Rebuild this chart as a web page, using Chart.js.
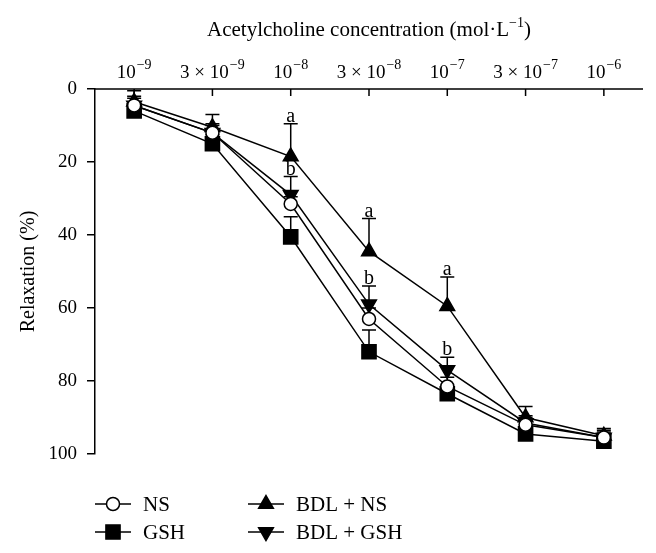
<!DOCTYPE html>
<html lang="en">
<head>
  <meta charset="UTF-8" />
  <title>Relaxation vs acetylcholine concentration</title>
  <script src="https://cdn.jsdelivr.net/npm/chart.js"></script>
  <style>
    html, body { margin: 0; padding: 0; background: #fff; }
    #wrap { width: 656px; height: 553px; }
  </style>
</head>
<body>
  <div id="wrap"><canvas id="chart"></canvas></div>

  <script>
    // categories (acetylcholine concentration, mol/L)
    const categories = ['1e-9', '3e-9', '1e-8', '3e-8', '1e-7', '3e-7', '1e-6'];
    const tickBase = ['10', '3 × 10', '10', '3 × 10', '10', '3 × 10', '10'];
    const tickExp = ['−9', '−9', '−8', '−8', '−7', '−7', '−6'];

    // relaxation (%) and error (upward)
    const nsValues = [4.5, 12, 31.5, 63, 81.5, 92, 95.5];
    const nsErr = [2, 2, 2, 3, 2.5, 2, 1.5];
    const gshValues = [6, 15, 40.5, 72, 83.5, 94.5, 96.5];
    const gshErr = [2, 2.5, 5.5, 6, 2, 2, 2];
    const bdlNsValues = [3.5, 10.5, 18.5, 44.5, 59.5, 90, 95];
    const bdlNsErr = [3, 3.5, 9, 9, 8, 3, 2];
    const bdlGshValues = [4.5, 12, 29, 59, 77, 91.5, 95.5];
    const bdlGshErr = [2.5, 2.5, 5, 5, 3.5, 2, 2];

    // significance letters
    const bdlNsMarks = [null, null, 'a', 'a', 'a', null, null];
    const bdlGshMarks = [null, null, 'b', 'b', 'b', null, null];

    const FONT = '"Liberation Serif", "Times New Roman", serif';

    function drawMarker(ctx, style, x, y, r, rot, filled) {
      ctx.save();
      ctx.beginPath();
      if (style === 'circle') {
        ctx.arc(x, y, r, 0, Math.PI * 2);
      } else if (style === 'rect') {
        const s = r * Math.SQRT1_2;
        ctx.rect(x - s, y - s, 2 * s, 2 * s);
      } else {
        let a = rot * Math.PI / 180;
        ctx.moveTo(x + Math.sin(a) * r, y - Math.cos(a) * r);
        a += Math.PI * 2 / 3;
        ctx.lineTo(x + Math.sin(a) * r, y - Math.cos(a) * r);
        a += Math.PI * 2 / 3;
        ctx.lineTo(x + Math.sin(a) * r, y - Math.cos(a) * r);
        ctx.closePath();
      }
      ctx.fillStyle = filled ? '#000' : '#fff';
      ctx.fill();
      ctx.lineWidth = 1.5;
      ctx.strokeStyle = '#000';
      ctx.stroke();
      ctx.restore();
    }

    // error bars, letters, top axis and legend
    const extras = {
      id: 'extras',
      beforeDatasetsDraw(chart) {
        const ctx = chart.ctx;
        const x = chart.scales.x, y = chart.scales.y;
        ctx.save();
        ctx.strokeStyle = '#000';
        ctx.lineWidth = 1.5;
        chart.data.datasets.forEach(ds => {
          ds.data.forEach((v, i) => {
            const px = x.getPixelForValue(i);
            const py = y.getPixelForValue(v);
            const pe = y.getPixelForValue(v - ds.errors[i]);
            ctx.beginPath();
            ctx.moveTo(px, py);
            ctx.lineTo(px, pe);
            ctx.moveTo(px - 7, pe);
            ctx.lineTo(px + 7, pe);
            ctx.stroke();
            if (ds.marks && ds.marks[i]) {
              ctx.fillStyle = '#000';
              ctx.font = '20px ' + FONT;
              ctx.textAlign = 'center';
              ctx.textBaseline = 'alphabetic';
              ctx.fillText(ds.marks[i], px, pe - 2);
            }
          });
        });
        ctx.restore();
      },
      afterDraw(chart) {
        const ctx = chart.ctx;
        const area = chart.chartArea;
        const x = chart.scales.x;
        ctx.save();
        // top axis
        ctx.strokeStyle = '#000';
        ctx.lineWidth = 1.5;
        ctx.beginPath();
        ctx.moveTo(area.left, area.top);
        ctx.lineTo(area.right, area.top);
        categories.forEach((c, i) => {
          const px = x.getPixelForValue(i);
          ctx.moveTo(px, area.top);
          ctx.lineTo(px, area.top + 7);
        });
        ctx.stroke();

        ctx.fillStyle = '#000';
        ctx.textBaseline = 'alphabetic';
        ctx.textAlign = 'left';
        categories.forEach((c, i) => {
          const px = x.getPixelForValue(i);
          ctx.font = '19px ' + FONT;
          const wb = ctx.measureText(tickBase[i]).width;
          ctx.font = '14px ' + FONT;
          const we = ctx.measureText(tickExp[i]).width;
          const x0 = px - (wb + we + 1) / 2;
          ctx.font = '19px ' + FONT;
          ctx.fillText(tickBase[i], x0, 78);
          ctx.font = '14px ' + FONT;
          ctx.fillText(tickExp[i], x0 + wb + 1, 69);
        });

        // axis title with superscript
        const t1 = 'Acetylcholine concentration (mol·L';
        const t2 = '−1';
        const t3 = ')';
        ctx.font = '21px ' + FONT;
        const w1 = ctx.measureText(t1).width, w3 = ctx.measureText(t3).width;
        ctx.font = '14px ' + FONT;
        const w2 = ctx.measureText(t2).width;
        let tx = (area.left + area.right) / 2 - (w1 + w2 + w3) / 2;
        ctx.font = '21px ' + FONT;
        ctx.fillText(t1, tx, 36);
        ctx.font = '14px ' + FONT;
        ctx.fillText(t2, tx + w1, 27);
        ctx.font = '21px ' + FONT;
        ctx.fillText(t3, tx + w1 + w2, 36);

        // legend, two columns
        const cols = [95, 248];
        const rows = [504, 532];
        const order = [[0, 0], [1, 0], [0, 1], [1, 1]]; // [row, col]
        chart.data.datasets.forEach((ds, k) => {
          const lx = cols[order[k][1]], ly = rows[order[k][0]];
          ctx.strokeStyle = '#000';
          ctx.lineWidth = 1.5;
          ctx.beginPath();
          ctx.moveTo(lx, ly);
          ctx.lineTo(lx + 36, ly);
          ctx.stroke();
          drawMarker(ctx, ds.pointStyle, lx + 18, ly, ds.pointRadius, ds.pointRotation || 0, ds.pointBackgroundColor === '#000');
          ctx.fillStyle = '#000';
          ctx.font = '21px ' + FONT;
          ctx.textBaseline = 'middle';
          ctx.fillText(ds.label, lx + 48, ly + 1);
        });
        ctx.restore();
      }
    };

    function series(label, values, errors, style, radius, filled, rotation, marks) {
      return {
        label: label,
        data: values,
        errors: errors,
        marks: marks,
        borderColor: '#000',
        borderWidth: 1.5,
        pointStyle: style,
        pointRadius: radius,
        pointRotation: rotation,
        pointBackgroundColor: filled ? '#000' : '#fff',
        pointBorderColor: '#000',
        pointBorderWidth: 1.5,
        tension: 0
      };
    }

    new Chart(document.getElementById('chart'), {
      type: 'line',
      data: {
        labels: categories,
        datasets: [
          series('NS', nsValues, nsErr, 'circle', 6.5, false, 0, null),
          series('GSH', gshValues, gshErr, 'rect', 10, true, 0, null),
          series('BDL + NS', bdlNsValues, bdlNsErr, 'triangle', 8.5, true, 0, bdlNsMarks),
          series('BDL + GSH', bdlGshValues, bdlGshErr, 'triangle', 8.5, true, 180, bdlGshMarks)
        ]
      },
      options: {
        responsive: true,
        maintainAspectRatio: false,
        animation: false,
        layout: { padding: { top: 89, right: 13, bottom: 99, left: 0 } },
        plugins: {
          legend: { display: false },
          tooltip: { enabled: false }
        },
        scales: {
          x: {
            type: 'category',
            display: false,
            offset: true
          },
          y: {
            reverse: true,
            min: 0,
            max: 100,
            ticks: {
              stepSize: 20,
              color: '#000',
              padding: 10,
              font: { family: FONT, size: 19 }
            },
            grid: {
              drawOnChartArea: false,
              tickLength: 8,
              color: '#000',
              lineWidth: 1.5
            },
            border: { display: true, color: '#000', width: 1.5 },
            title: {
              display: true,
              text: 'Relaxation (%)',
              color: '#000',
              padding: { top: 17, bottom: 4 },
              font: { family: FONT, size: 20 }
            },
            afterFit(scale) { scale.width = 95; }
          }
        }
      },
      plugins: [extras]
    });
  </script>
</body>
</html>
